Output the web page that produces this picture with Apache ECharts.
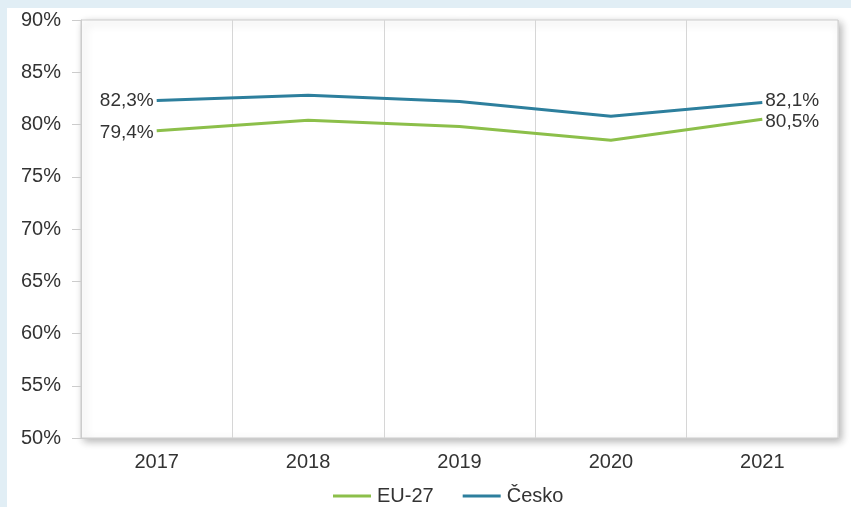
<!DOCTYPE html>
<html>
<head>
<meta charset="utf-8">
<script src="https://cdn.jsdelivr.net/npm/echarts@6/dist/echarts.min.js"></script>
<style>
  html, body { margin: 0; padding: 0; width: 851px; height: 507px; background: #e1eef5; overflow: hidden; }
  #chart { position: absolute; left: 7px; top: 8px; width: 844px; height: 499px; background: #fff; }
</style>
</head>
<body>
<div id="chart"></div>
<script>
const years = ["2017", "2018", "2019", "2020", "2021"];
const euValues = [79.4, 80.4, 79.8, 78.5, 80.5];
const czValues = [82.3, 82.8, 82.2, 80.8, 82.1];
const yTicks = { min: 50, max: 90, step: 5 };

const fmt = (v) => v.toFixed(1).replace(".", ",") + "%";

// only the first and last points carry a label
function withEndLabels(values, offsets) {
  return values.map((v, i) => {
    if (i === 0) return { value: v, label: { show: true, position: "left", distance: 3, offset: [0, offsets[0]] } };
    if (i === values.length - 1) return { value: v, label: { show: true, position: "right", distance: 3, offset: [0, offsets[1]] } };
    return v;
  });
}

const labelStyle = {
  show: false,
  color: "#333",
  fontSize: 19,
  fontFamily: "Liberation Sans, Arial, sans-serif",
  formatter: (p) => fmt(p.value),
};

const myChart = echarts.init(document.getElementById("chart"));

const option = {
  animation: false,
  textStyle: { fontFamily: "Liberation Sans, Arial, sans-serif" },
  grid: {
    show: true,
    left: 74,
    right: 13,
    top: 12,
    bottom: 69,
    backgroundColor: "#fff",
    borderColor: "#cccccc",
    borderWidth: 1,
    shadowColor: "rgba(0,0,0,0.3)",
    shadowBlur: 8,
    shadowOffsetX: 3,
    shadowOffsetY: 3,
  },
  legend: {
    top: 473,
    left: 321,
    icon: "rect",
    itemWidth: 38,
    itemHeight: 3,
    itemGap: 29,
    textStyle: { color: "#333", fontSize: 20, padding: [0, 0, 0, 1] },
    data: ["EU-27", "Česko"],
  },
  xAxis: {
    type: "category",
    data: years,
    boundaryGap: true,
    axisLine: { lineStyle: { color: "#cccccc" } },
    axisTick: { show: false },
    axisLabel: { color: "#333", fontSize: 20, margin: 14 },
    splitLine: { show: true, interval: 0, lineStyle: { color: "#d6d6d6", width: 1 } },
  },
  yAxis: {
    type: "value",
    min: yTicks.min,
    max: yTicks.max,
    interval: yTicks.step,
    axisLine: { show: true, lineStyle: { color: "#cccccc" } },
    axisTick: { show: true, length: 9, lineStyle: { color: "#cccccc" } },
    axisLabel: { color: "#333", fontSize: 20, margin: 20, formatter: "{value}%" },
    splitLine: { show: false },
  },
  series: [
    {
      name: "EU-27",
      type: "line",
      data: withEndLabels(euValues, [2, 2]),
      symbol: "circle",
      symbolSize: 0,
      showSymbol: true,
      itemStyle: { color: "#8cbf4a" },
      lineStyle: { color: "#8cbf4a", width: 3 },
      label: labelStyle,
      emphasis: { disabled: true },
    },
    {
      name: "Česko",
      type: "line",
      data: withEndLabels(czValues, [0, -2]),
      symbol: "circle",
      symbolSize: 0,
      showSymbol: true,
      itemStyle: { color: "#2d7f9d" },
      lineStyle: { color: "#2d7f9d", width: 3 },
      label: labelStyle,
      emphasis: { disabled: true },
    },
  ],
};

myChart.setOption(option);
</script>
</body>
</html>
